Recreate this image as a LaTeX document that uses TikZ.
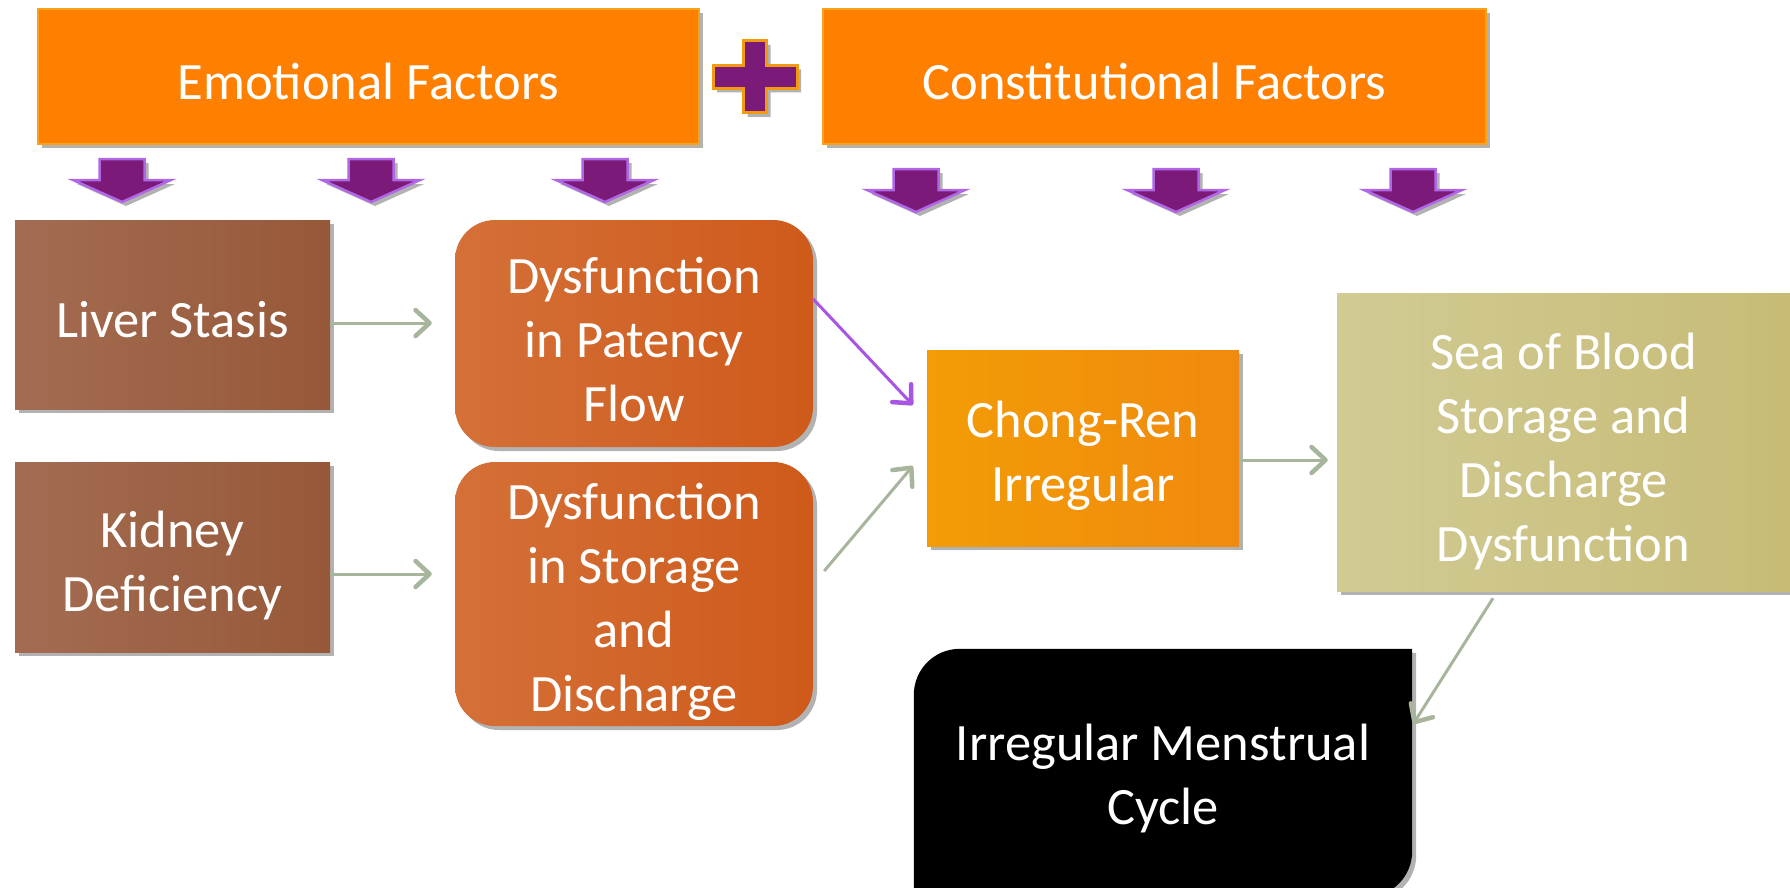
\documentclass[tikz,border=0pt]{standalone}
\usepackage{fontspec}
\setmainfont{Carlito}
\usetikzlibrary{arrows.meta,shadows}
\definecolor{topor}{HTML}{FF8000}
\definecolor{topbd}{HTML}{F7A21B}
\definecolor{brownA}{HTML}{A36C52}
\definecolor{brownB}{HTML}{975838}
\definecolor{rustA}{HTML}{D47038}
\definecolor{rustB}{HTML}{CF5A1A}
\definecolor{chongA}{HTML}{F39C06}
\definecolor{chongB}{HTML}{F08A0E}
\definecolor{seaA}{HTML}{D1CB94}
\definecolor{seaB}{HTML}{C7BB76}
\definecolor{purp}{HTML}{7B1A78}
\definecolor{purpbd}{HTML}{B067E6}
\definecolor{plusbd}{HTML}{F29A10}
\definecolor{conn}{HTML}{A7B59C}
\definecolor{connp}{HTML}{A855E3}
\tikzset{
  shad/.style={drop shadow={shadow xshift=4pt, shadow yshift=-4pt, fill=black, opacity=0.3}},
  txt/.style={text=white, align=center, inner sep=0pt, font=\fontsize{52.5pt}{64pt}\selectfont},
  boxbase/.style={inner sep=0pt, shad},
  topbox/.style={boxbase, fill=topor, draw=topbd, line width=2pt},
  brownbox/.style={boxbase, left color=brownA, right color=brownB},
  rustbox/.style={boxbase, left color=rustA, right color=rustB, rounded corners=40pt},
  chongbox/.style={boxbase, left color=chongA, right color=chongB},
  seabox/.style={boxbase, left color=seaA, right color=seaB},
  connline/.style={draw=conn, line width=3pt, -{Straight Barb[length=14pt, width=26pt, line width=4.5pt, round]}},
  connpline/.style={draw=connp, line width=3pt, -{Straight Barb[length=14pt, width=26pt, line width=4.5pt, round]}},
  downarr/.pic={\filldraw[fill=purp, draw=purpbd, line width=2.5pt, line join=miter, shad]
     (-22.5,0) -- (22.5,0) -- (22.5,21) -- (49,21) -- (0,43) -- (-49,21) -- (-22.5,21) -- cycle;}
}
\begin{document}
\begin{tikzpicture}[x=1pt, y=-1pt]
\useasboundingbox (0,0) rectangle (1790,888);
% top boxes
\node[topbox, minimum width=661pt, minimum height=135pt,
  label={[txt,yshift=-5pt]center:Emotional Factors}] (emo) at (368.5,76.5) {};
\node[topbox, minimum width=663pt, minimum height=135pt,
  label={[txt,yshift=-5pt]center:Constitutional Factors}] (con) at (1154.5,76.5) {};
% plus
\coordinate (plus) at (755,77);
\filldraw[fill=purp, draw=plusbd, line width=3pt, shad, shift={(plus)}]
  (-11.5,-36) -- (11.5,-36) -- (11.5,-11.5) -- (42,-11.5) -- (42,11.5) -- (11.5,11.5)
  -- (11.5,36) -- (-11.5,36) -- (-11.5,11.5) -- (-42,11.5) -- (-42,-11.5) -- (-11.5,-11.5) -- cycle;
% down arrows
\pic at (122,159) {downarr};
\pic at (371,159) {downarr};
\pic at (605,159) {downarr};
\pic at (916,169) {downarr};
\pic at (1176,169) {downarr};
\pic at (1413,169) {downarr};
% boxes
\node[brownbox, minimum width=315pt, minimum height=189pt,
  label={[txt,yshift=-5pt]center:Liver Stasis}] (liver) at (172.5,314.5) {};
\node[brownbox, minimum width=315pt, minimum height=190pt,
  label={[txt,yshift=-8pt]center:Kidney\\Deficiency}] (kidney) at (172.5,557) {};
\node[rustbox, minimum width=358pt, minimum height=227pt,
  label={[txt,yshift=-6pt]center:Dysfunction\\in Patency\\Flow}] (patency) at (634,333.5) {};
\node[rustbox, minimum width=358pt, minimum height=264pt,
  label={[txt,yshift=-8pt]center:Dysfunction\\in Storage\\and\\Discharge}] (storage) at (634,594) {};
\node[chongbox, minimum width=312pt, minimum height=196pt,
  label={[txt,yshift=-8pt]center:Chong-Ren\\Irregular}] (chong) at (1083,448) {};
\node[seabox, minimum width=453pt, minimum height=298pt,
  label={[txt,yshift=-9pt]center:Sea of Blood\\Storage and\\Discharge\\Dysfunction}] (sea) at (1563.5,442) {};
% irregular box
\node[inner sep=0pt, minimum width=498pt, minimum height=248pt] (irr) at (1163,773) {};
\fill[black, shad] (irr.south west) -- ([yshift=-46pt]irr.north west)
  arc[start angle=180, end angle=90, radius=46pt] -- (irr.north east)
  -- ([yshift=46pt]irr.south east) arc[start angle=0, end angle=-90, radius=46pt] -- cycle;
\node[txt, yshift=-5pt] (irrtext) at (irr.center) {Irregular Menstrual\\Cycle};
% connectors
\draw[connline, shorten >=23pt] ([yshift=-8.5pt]liver.east) -- ([yshift=-8.5pt]liver.east -| patency.west);
\draw[connline, shorten >=23pt] ([yshift=-17pt]kidney.east) -- ([yshift=-17pt]kidney.east -| storage.west);
\draw[connpline] ([yshift=34.5pt]patency.east) -- ([xshift=-14pt, yshift=43pt]chong.west);
\draw[connline] ([xshift=11pt, yshift=23pt]storage.south east |- storage.east) -- ([xshift=-14pt, yshift=-18pt]chong.west);
\draw[connline, shorten >=9pt] ([yshift=-12pt]chong.east) -- ([yshift=-12pt]chong.east -| sea.west);
\draw[connline] ([xshift=-70.5pt, yshift=-7pt]sea.south) -- ([xshift=1pt, yshift=49pt]irr.east);
\end{tikzpicture}
\end{document}
